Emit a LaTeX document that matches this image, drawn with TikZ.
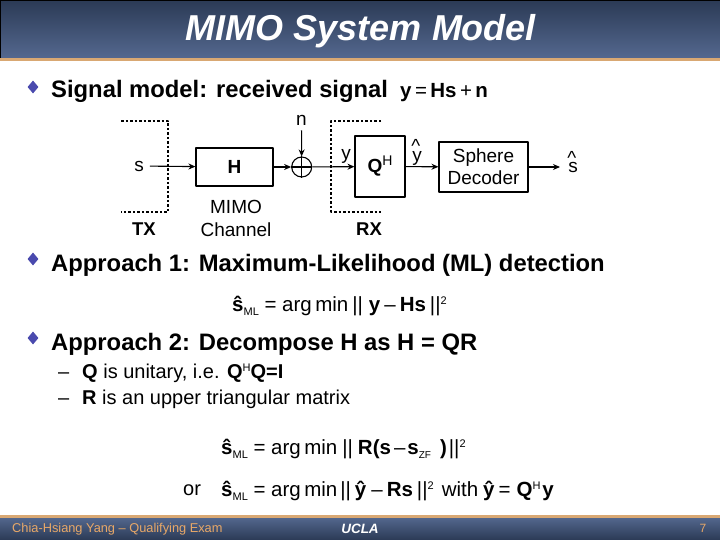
\documentclass[tikz,border=0pt]{standalone}
\usepackage{fontspec}
\setmainfont{Liberation Sans}
\usetikzlibrary{shapes.geometric,arrows.meta}
\definecolor{barTop}{HTML}{2B3A55}
\definecolor{barLow}{HTML}{54688F}
\definecolor{barLine}{HTML}{D9A873}
\definecolor{footText}{HTML}{E8A868}
\definecolor{bulletBlue}{HTML}{4A4AAE}
\newcommand{\fsize}[1]{\fontsize{#1}{#1}\selectfont}
\newcommand{\gp}[1]{\hspace{#1pt}}
\newcommand{\shat}{\textbf{\^{s}}}
\newcommand{\yhat}{\textbf{\^{y}}}
\newcommand{\mlsub}{\raisebox{-4pt}{\fsize{11}ML}}
\newcommand{\supsc}[1]{\raisebox{7pt}{\fsize{11}#1}}
\newcommand{\liftcaret}[1]{\makebox[0pt][l]{\hspace{-0.8pt}\raisebox{8.5pt}{\^{}}}#1}
\tikzset{
	block/.style={draw,line width=1.1pt,minimum height=#1,inner sep=0pt,align=center},
	sig/.style={font=\fsize{19},inner sep=0pt},
	head/.style={font=\fsize{18.5}\bfseries,inner sep=0pt},
	bulletmark/.style={diamond,fill=bulletBlue,minimum width=11pt,minimum height=13pt,inner sep=0pt},
	bullettext/.style={anchor=base west,inner sep=0pt,font=\fsize{23.8}\bfseries},
	subtext/.style={anchor=base west,inner sep=0pt,font=\fsize{20}},
	eqn/.style={anchor=base west,inner sep=0pt,font=\fsize{20.5}},
	wire/.style={-{Stealth[length=7pt,width=6pt]},line width=1.1pt},
	fence/.style={dash pattern=on 2.5pt off 2pt,line width=1.1pt}
}
\begin{document}
\begin{tikzpicture}[x=1pt,y=-1pt,>=stealth,line join=round]
	\useasboundingbox (0,0) rectangle (720,540);
	\fill[white] (0,0) rectangle (720,540);
	% title and footer bars
	\shade[top color=barTop,bottom color=barLow] (0,0) rectangle (720,58);
	\fill[barLine] (0,58) rectangle (720,61);
	\draw[black,line width=1pt] (0.5,58)--(0.5,0.5)--(720,0.5);
	\shade[top color=barLow,bottom color=barTop] (0,517) rectangle (720,540);
	\fill[barLine] (0,515) rectangle (720,518);
	\node[text=white,font=\fsize{36}\bfseries\itshape,inner sep=0pt,anchor=base] (title) at (361,41) {MIMO System Model};
	\node[text=footText,font=\fsize{12.8},inner sep=0pt,anchor=base west] (author) at (12,532) {Chia-Hsiang Yang -- Qualifying Exam};
	\node[text=white,font=\fsize{13.5}\bfseries\itshape,inner sep=0pt,anchor=base] (school) at (360,533) {UCLA};
	\node[text=footText,font=\fsize{12},inner sep=0pt,anchor=base] (page) at (703,532) {7};
	% bullets
	\node[bulletmark] (b1) at (33,87) {};
	\node[bulletmark] (b2) at (33,259) {};
	\node[bulletmark] (b3) at (33,338) {};
	\node[bullettext] (t1) at (51,98) {Signal model: received signal};
	\node[bullettext] (t2) at (51,271) {Approach 1: Maximum-Likelihood (ML) detection};
	\node[bullettext] (t3) at (51,350) {Approach 2: Decompose H as H = QR};
	\node[subtext] (d1) at (58,378) {--};
	\node[subtext] (s1) at (82,378) {\textbf{Q} is unitary, i.e. \textbf{Q}\supsc{H}\textbf{Q=I}};
	\node[subtext] (d2) at (58,404) {--};
	\node[subtext] (s2) at (82,404) {\textbf{R} is an upper triangular matrix};
	% equations
	\node[eqn] (eq0) at (400,98) {\textbf{y}\,=\,\textbf{Hs}\,+\,\textbf{n}};
	\node[eqn] (eq1) at (232,311) {\shat\mlsub\ = arg\,min\gp{4}||\gp{6}\textbf{y}\gp{4}--\gp{4}\textbf{Hs}\gp{4}||\supsc{2}};
	\node[eqn] (eq2) at (221,454) {\shat\mlsub\ = arg\,min\gp{5}||\gp{5}\textbf{R(s}\gp{3}--\gp{2}\textbf{s}\raisebox{-4pt}{\fsize{10}ZF}\gp{9}\textbf{)}\gp{2}||\supsc{2}};
	\node[subtext] (or) at (183,495) {or};
	\node[eqn] (eq3) at (221,496) {\shat\mlsub\ = arg\,min\gp{3}||\gp{4}\yhat\gp{5}--\gp{4}\textbf{Rs}\gp{4}||\supsc{2}\gp{8}with\gp{5}\yhat\gp{4}=\gp{6}\textbf{Q}\supsc{H}\gp{2}\textbf{y}};
	% block diagram
	\coordinate (txa) at (121,121);
	\coordinate (txb) at (168,121);
	\coordinate (txc) at (168,212);
	\coordinate (txd) at (121,212);
	\coordinate (rxa) at (381,121);
	\coordinate (rxb) at (331,121);
	\coordinate (rxc) at (331,212);
	\coordinate (rxd) at (381,212);
	\coordinate (shatend) at (560,167);
	\draw[fence] (txa)--(txb)--(txc)--(txd);
	\draw[fence] (rxa)--(rxb)--(rxc)--(rxd);
	\node[sig] (s) at (139,166) {s};
	\node[block=38pt,minimum width=77pt,font=\fsize{19}\bfseries] (H) at (234.5,167) {H};
	\node[draw,circle,line width=1.1pt,minimum size=20pt,inner sep=0pt] (sum) at (301.7,167) {};
	\draw[line width=1.1pt] (sum.north)--(sum.south) (sum.west)--(sum.east);
	\node[sig] (n) at (301.5,120) {n};
	\node[block=61pt,minimum width=50pt,font=\fsize{19}] (Q) at (380,166.5) {\textbf{Q}\raisebox{7pt}{\fsize{14}H}};
	\node[block=50pt,minimum width=89pt,font=\fsize{19}] (dec) at (483.5,167) {Sphere\\[3pt]Decoder};
	\node[sig] (y) at (346,156) {y};
	\node[sig,anchor=base] (yh) at (417,161.5) {\liftcaret{y}};
	\node[sig,anchor=base] (sh) at (573,173) {\liftcaret{s}};
	\node[sig,align=center] (chan) at (236,218) {MIMO\\[4pt]Channel};
	\node[head] (tx) at (144,229) {TX};
	\node[head] (rx) at (369,229) {RX};
	\draw[wire,shorten <=6pt] (s)--(H);
	\draw[wire] (H)--(sum);
	\draw[wire,shorten <=5pt] (n)--(sum);
	\draw[wire] (sum)--(Q);
	\draw[wire] (Q)--(dec);
	\draw[wire] (dec)--(shatend);
\end{tikzpicture}
\end{document}
